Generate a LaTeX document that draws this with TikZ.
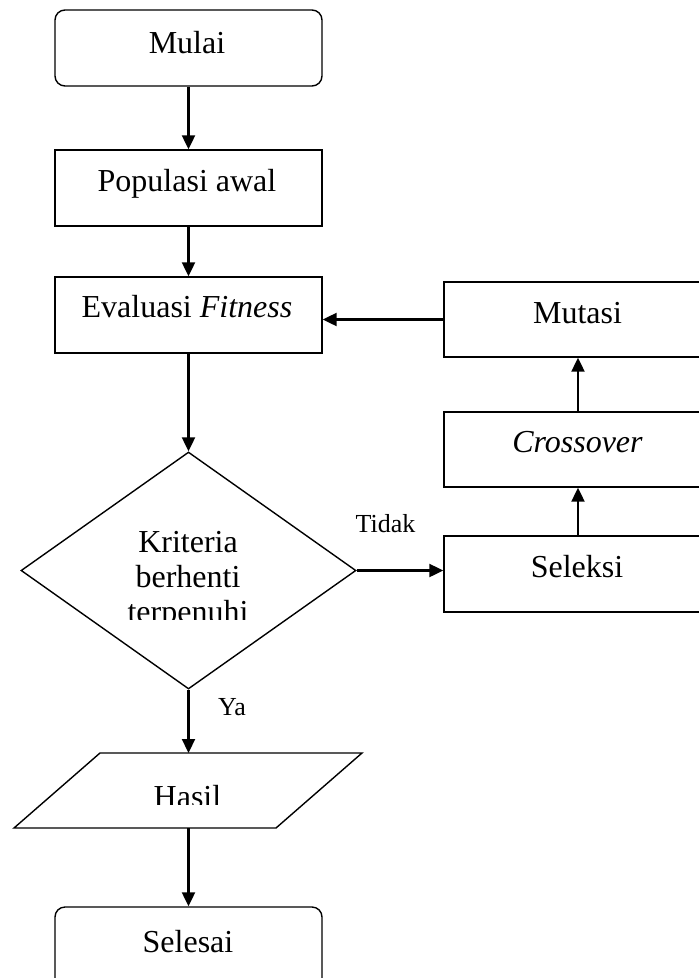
\documentclass[tikz,border=0pt]{standalone}
\usepackage{fontspec}
\setmainfont{Liberation Serif}
\usetikzlibrary{arrows.meta,shapes.geometric}
\begin{document}
\begin{tikzpicture}[x=1pt,y=-1pt,
  box/.style={draw,line width=1.4pt,minimum width=267pt,minimum height=76pt,inner sep=0pt},
  roundbox/.style={box,rounded corners=10pt},
  flow/.style={line width=2.2pt,-{Triangle[length=14pt,width=13pt]}},
  txt/.style={anchor=base,inner sep=0pt,font=\fontsize{32}{35}\selectfont},
  small/.style={anchor=base,inner sep=0pt,font=\fontsize{26}{30}\selectfont}]
\useasboundingbox (0,0) rectangle (699,978);
\clip (0,0) rectangle (699,978);

% main column
\node[roundbox] (mulai) at (188.5,48) {};
\node[box] (pop) at (188.5,188) {};
\node[box] (eval) at (188.5,315) {};
\node[draw,line width=1.4pt,diamond,inner sep=0pt,minimum width=335pt,minimum height=237pt,aspect=1.41] (cek) at (188.5,570.5) {};
\draw[line width=1.4pt] (100,753) -- (362,753) -- (276,828) -- (14,828) -- cycle;
\coordinate (hasilT) at (188.5,753);
\coordinate (hasilB) at (188.5,828);
\node[roundbox,minimum height=84pt] (selesai) at (188.5,949) {};

% loop column
\node[box,minimum height=75pt,minimum width=268pt] (mutasi) at (578,319.5) {};
\node[box,minimum height=75pt,minimum width=268pt] (cross) at (578,449.5) {};
\node[box,minimum height=76pt,minimum width=268pt] (seleksi) at (578,574) {};

% texts
\node[txt] (tMulai) at (187,53) {Mulai};
\node[txt] (tPop) at (187,191) {Populasi awal};
\node[txt] (tEval) at (187,317) {Evaluasi \textit{Fitness}};
\node[txt] (tMutasi) at (577.5,323) {Mutasi};
\node[txt] (tCross) at (577.5,452) {\textit{Crossover}};
\node[txt] (tSeleksi) at (577,577) {Seleksi};
\node[txt] (tK1) at (188,552) {Kriteria};
\node[txt] (tK2) at (188,587) {berhenti};
\begin{scope}
  \clip (80,590) rectangle (300,619);
  \node[txt] (tK3) at (188,622) {terpenuhi};
\end{scope}
\begin{scope}
  \clip (120,770) rectangle (260,804);
  \node[txt] (tHasil) at (187.5,807) {Hasil};
\end{scope}
\node[txt] (tSelesai) at (188,952) {Selesai};
\node[small] (tTidak) at (385.5,532) {Tidak};
\node[small] (tYa) at (232,715) {Ya};

% connectors
\draw[flow] (mulai.south) -- (pop.north);
\draw[flow] (pop.south) -- (eval.north);
\draw[flow] (eval.south) -- (cek.north);
\draw[flow] (cek.east) -- (cek.east -| seleksi.west);
\draw[flow] (seleksi.north) -- (cross.south);
\draw[flow] (cross.north) -- (mutasi.south);
\draw[flow] (mutasi.west) -- (mutasi.west -| eval.east);
\draw[flow] (cek.south) -- (hasilT);
\draw[flow] (hasilB) -- (selesai.north);
\end{tikzpicture}
\end{document}
